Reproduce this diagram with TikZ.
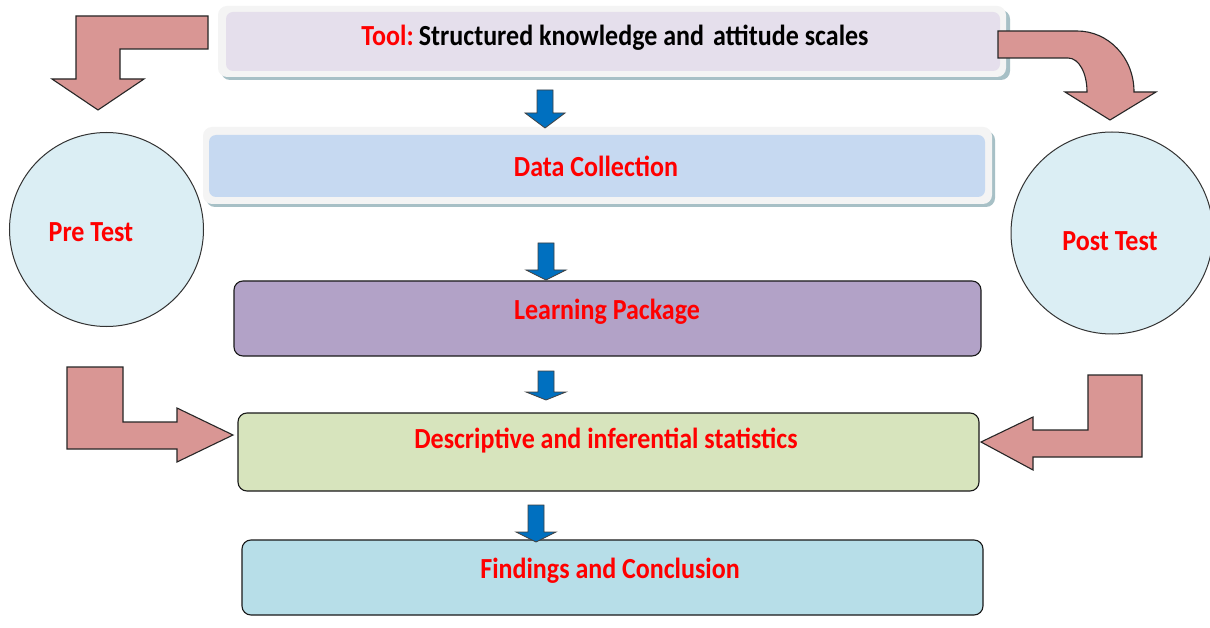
\documentclass[tikz,border=0pt]{standalone}
\usepackage{fontspec}
\setmainfont{Carlito}
\definecolor{pinkfill}{HTML}{D99694}
\definecolor{bluefill}{HTML}{0070C0}
\definecolor{lavender}{HTML}{E5DFEC}
\definecolor{paleblue}{HTML}{C6D9F1}
\definecolor{purplebox}{HTML}{B2A2C7}
\definecolor{greenbox}{HTML}{D7E4BD}
\definecolor{cyanbox}{HTML}{B7DEE8}
\definecolor{circfill}{HTML}{DBEEF4}
\definecolor{framefill}{HTML}{F4F4F4}
\definecolor{shadowcol}{HTML}{A7C0C6}
\tikzset{
  txtfont/.style={font=\bfseries\fontsize{26}{30}\selectfont, inner sep=0pt, yscale=1.12, transform shape},
  lbl/.style={txtfont, text=red},
  pinkarrow/.style={fill=pinkfill, draw=black!85, line width=1.1pt, line join=miter},
  bluearrow/.style={fill=bluefill, draw=black!75, line width=0.8pt, line join=miter},
  flowbox/.style={rectangle, rounded corners=9pt, draw=black!90, line width=1.1pt, inner sep=0pt},
  softbox/.style={rectangle, rounded corners=7pt, inner sep=0pt},
  testcircle/.style={circle, fill=circfill, draw=black!80, line width=1pt, inner sep=0pt}
}
% downward block arrow: centre x, top y, head base y, tip y
\newcommand\downblock[4]{%
  \draw[bluearrow] (#1-8,#2) -- (#1+8,#2) -- (#1+8,#3) -- (#1+20,#3) -- (#1,#4)
    -- (#1-20,#3) -- (#1-8,#3) -- cycle;}
\begin{document}
\begin{tikzpicture}[x=1pt,y=-1pt]
\useasboundingbox (0,0) rectangle (1210,628);
\fill[white] (0,0) rectangle (1210,628);

% tool box with light frame and shadow
\fill[shadowcol, rounded corners=9pt] (221,10) rectangle (1010,80);
\fill[framefill, rounded corners=9pt] (218,6) rectangle (1006,77);
\node[softbox, fill=lavender, minimum width=774pt, minimum height=59pt] (tool) at (613,41.5) {};
\node[txtfont] (tooltxt) at (615,38)
  {\textcolor{red}{Tool:}\hspace{-0.1em} Structured knowledge and\hspace{0.12em} attitude scales};

% data collection box with light frame and shadow
\fill[shadowcol, rounded corners=9pt] (206,131) rectangle (995,207);
\fill[framefill, rounded corners=9pt] (203,127) rectangle (992,204);
\node[softbox, fill=paleblue, minimum width=776pt, minimum height=62pt] (data) at (597,166) {};
\node[lbl] (datatxt) at (596,166) {Data Collection};

% remaining process boxes
\node[flowbox, fill=purplebox, minimum width=747pt, minimum height=75pt] (learn) at (607.5,318.5) {};
\node[lbl] (learntxt) at (607,312) {Learning Package};
\node[flowbox, fill=greenbox, minimum width=741pt, minimum height=78pt] (stats) at (608.5,452) {};
\node[lbl] (statstxt) at (606,441) {Descriptive and inferential statistics};
\node[flowbox, fill=cyanbox, minimum width=741pt, minimum height=75pt] (find) at (612.5,577.5) {};
\node[lbl] (findtxt) at (610,571) {Findings and Conclusion};

% pre and post test circles
\node[testcircle, minimum size=194pt] (pre) at (106.5,229.5) {};
\node[lbl] (pretxt) at (91,232) {Pre Test};
\node[testcircle, minimum size=202pt] (post) at (1112,233) {};
\node[lbl] (posttxt) at (1110,241) {Post Test};

% blue arrows between the steps
\downblock{545}{90}{113}{128}
\downblock{546}{243}{270}{280}
\downblock{546}{371}{392}{400}
\downblock{536}{505}{532}{542}

% pink arrows: tool to pre test
\draw[pinkarrow] (208,16) -- (76,16) -- (76,79) -- (52,79) -- (98,110) -- (144,79)
  -- (120,79) -- (120,49) -- (208,49) -- cycle;
% tool to post test
\draw[pinkarrow] (998,31) -- (1077,31) .. controls (1108,31) and (1134,57) .. (1134,92)
  -- (1156,92) -- (1110,120) -- (1065,92) -- (1087,92)
  .. controls (1087,73) and (1079,58) .. (1068,58) -- (998,58) -- cycle;
% pre test to statistics
\draw[pinkarrow] (67,367) -- (123,367) -- (123,422) -- (177,422) -- (177,408) -- (233,435)
  -- (177,462) -- (177,449) -- (67,449) -- cycle;
% post test to statistics
\draw[pinkarrow] (1142,375) -- (1088,375) -- (1088,430) -- (1033,430) -- (1033,417) -- (981,442)
  -- (1033,470) -- (1033,457) -- (1142,457) -- cycle;
\end{tikzpicture}
\end{document}
